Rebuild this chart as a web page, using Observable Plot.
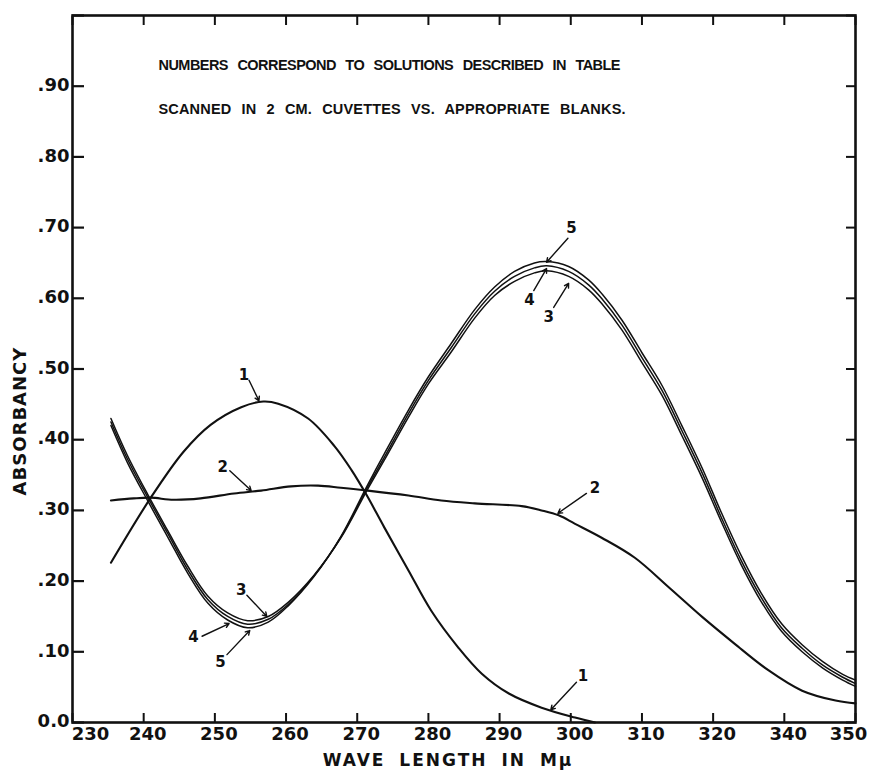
<!DOCTYPE html>
<html><head><meta charset="utf-8">
<script src="https://cdn.jsdelivr.net/npm/d3@7"></script>
<script src="https://cdn.jsdelivr.net/npm/@observablehq/plot@0.6"></script>
<style>
html,body{margin:0;padding:0;background:#fff;}
</style></head><body><div id="chart"></div>
<script>
// ---- axis ticks (the original skips 330 on the wavelength axis) ----
const xTickValues = [230, 240, 250, 260, 270, 280, 290, 300, 310, 320, 340, 350];
const xTickLabels = ["230", "240", "250", "260", "270", "280", "290", "300", "310", "320", "340", "350"];
const yTickValues = [0, 0.1, 0.2, 0.3, 0.4, 0.5, 0.6, 0.7, 0.8, 0.9, 1.0];
const yTickLabels = ["0.0", ".10", ".20", ".30", ".40", ".50", ".60", ".70", ".80", ".90", ""];

// ---- texts ----
const xTitle = "WAVE LENGTH IN M\u03bc";
const yTitle = "ABSORBANCY";
const noteLines = [
  "NUMBERS CORRESPOND TO SOLUTIONS DESCRIBED IN TABLE",
  "SCANNED IN 2 CM. CUVETTES VS. APPROPRIATE BLANKS."
];

// ---- curve 1 ----
const wl1 = [235.4, 241.0, 245.6, 249.4, 253.7, 256.8, 258.9, 263.1, 266.8, 269.2, 271.3, 273.8, 277.2, 280.4, 284.2, 287.5, 291.3, 295.9, 300.6, 303.4];
const abs1 = [0.226, 0.318, 0.383, 0.421, 0.446, 0.454, 0.451, 0.430, 0.391, 0.357, 0.322, 0.276, 0.215, 0.158, 0.106, 0.069, 0.041, 0.021, 0.007, 0.0];

// ---- curve 2 ----
const wl2 = [235.4, 238.6, 241.0, 244.2, 248.0, 252.7, 256.5, 260.7, 264.5, 267.7, 271.5, 277.2, 281.8, 286.5, 293.1, 295.9, 298.3, 300.6, 304.4, 309.0, 313.8, 318.5, 325.9, 335.5, 342.5, 347.2, 350.0];
const abs2 = [0.314, 0.317, 0.318, 0.315, 0.317, 0.324, 0.328, 0.334, 0.335, 0.332, 0.328, 0.321, 0.314, 0.310, 0.306, 0.300, 0.293, 0.281, 0.261, 0.233, 0.191, 0.149, 0.112, 0.074, 0.045, 0.031, 0.027];

// ---- curves 3, 4, 5 (read at common wavelengths) ----
const wl345 = [235.4, 237.7, 240.6, 243.4, 246.2, 249.0, 251.8, 254.6, 257.5, 260.3, 263.9, 267.7, 271.3, 273.8, 277.2, 280.0, 283.2, 286.5, 289.3, 292.1, 294.9, 296.6, 299.7, 302.5, 304.4, 307.2, 310.0, 312.8, 315.6, 318.5, 322.3, 327.9, 333.5, 339.2, 342.5, 345.4, 348.2, 350.0];
const abs3 = [0.430, 0.378, 0.322, 0.271, 0.221, 0.179, 0.155, 0.144, 0.150, 0.170, 0.208, 0.261, 0.327, 0.371, 0.432, 0.479, 0.524, 0.572, 0.604, 0.624, 0.636, 0.639, 0.631, 0.612, 0.592, 0.555, 0.509, 0.463, 0.406, 0.345, 0.284, 0.223, 0.171, 0.129, 0.100, 0.077, 0.060, 0.051];
const abs4 = [0.425, 0.373, 0.318, 0.267, 0.216, 0.174, 0.150, 0.139, 0.146, 0.167, 0.207, 0.262, 0.330, 0.375, 0.437, 0.484, 0.530, 0.578, 0.610, 0.631, 0.643, 0.646, 0.638, 0.619, 0.599, 0.562, 0.516, 0.470, 0.413, 0.352, 0.290, 0.229, 0.177, 0.134, 0.105, 0.081, 0.064, 0.055];
const abs5 = [0.420, 0.368, 0.313, 0.262, 0.211, 0.169, 0.145, 0.134, 0.142, 0.165, 0.206, 0.263, 0.333, 0.380, 0.442, 0.489, 0.536, 0.584, 0.616, 0.638, 0.650, 0.652, 0.645, 0.626, 0.606, 0.569, 0.523, 0.477, 0.420, 0.359, 0.297, 0.236, 0.183, 0.140, 0.110, 0.086, 0.068, 0.060];

// ---- curve number labels and their leader lines ----
const curveLabelText = ["1", "2", "3", "4", "5", "5", "4", "3", "2", "1"];
const curveLabelWl  = [254.1, 251.1, 253.7, 247.0, 250.8, 300.1, 294.2, 296.9, 303.4, 301.7];
const curveLabelAbs = [0.491, 0.361, 0.187, 0.120, 0.085, 0.699, 0.597, 0.573, 0.331, 0.066];
const leaderFromWl  = [254.8, 252.1, 254.5, 248.2, 251.7, 299.6, 294.8, 297.6, 302.2, 300.8];
const leaderFromAbs = [0.484, 0.356, 0.180, 0.122, 0.096, 0.685, 0.611, 0.587, 0.324, 0.057];
const leaderToWl    = [256.2, 255.1, 257.3, 252.0, 254.9, 296.6, 296.6, 299.7, 298.2, 297.2];
const leaderToAbs   = [0.455, 0.328, 0.150, 0.140, 0.130, 0.651, 0.642, 0.621, 0.296, 0.018];

// ---- build tables ----
const toRows = (wl, ab, s) => wl.map((w, i) => ({s, wl: w, a: ab[i]}));
const rows1 = toRows(wl1, abs1, "1");
const rows2 = toRows(wl2, abs2, "2");
const rows345 = [...toRows(wl345, abs3, "3"), ...toRows(wl345, abs4, "4"), ...toRows(wl345, abs5, "5")];
const labels = curveLabelText.map((t, i) => ({t, wl: curveLabelWl[i], a: curveLabelAbs[i]}));
const leaders = curveLabelText.map((t, i) => ({x1: leaderFromWl[i], y1: leaderFromAbs[i], x2: leaderToWl[i], y2: leaderToAbs[i]}));

const INK = "#111";
const xFmt = d => xTickLabels[xTickValues.indexOf(d)];
const yFmt = d => yTickLabels[yTickValues.indexOf(d)];
const blank = () => "";
const nX = xTickValues.length;
const xLabelOpts = {anchor: "bottom", tickSize: 0, tickPadding: 5, tickFormat: xFmt, fontSize: 18, fontWeight: "bold", label: null};

const chart = Plot.plot({
  width: 870,
  height: 777,
  marginLeft: 72, marginRight: 15, marginTop: 15, marginBottom: 55,
  style: {background: "#fff", color: INK, fontFamily: "'DejaVu Sans', sans-serif"},
  x: {type: "linear", domain: xTickValues, label: null},
  y: {domain: [0, 1], label: null},
  marks: [
    // tick labels (hand-lettered: first and last sit inside the frame corners)
    Plot.axisX(xTickValues.slice(0, 1), {...xLabelOpts, dx: 18}),
    Plot.axisX(xTickValues.slice(1, nX - 1), {...xLabelOpts, dx: 4}),
    Plot.axisX(xTickValues.slice(nX - 1), {...xLabelOpts, dx: -7}),
    Plot.axisY(yTickValues, {anchor: "left", tickSize: 0, tickPadding: 3, tickFormat: yFmt, fontSize: 18, fontWeight: "bold", dy: -1, label: null}),
    // inward ticks on all four sides
    Plot.axisX(xTickValues, {anchor: "bottom", tickSize: -9, tickFormat: blank, strokeWidth: 2, label: null}),
    Plot.axisX(xTickValues, {anchor: "top", tickSize: -9, tickFormat: blank, strokeWidth: 2, label: null}),
    Plot.axisY(yTickValues, {anchor: "left", tickSize: -12, tickFormat: blank, strokeWidth: 2.2, label: null}),
    Plot.axisY(yTickValues, {anchor: "right", tickSize: -10, tickFormat: blank, strokeWidth: 2, label: null}),
    Plot.frame({stroke: INK, strokeWidth: 2.6}),
    // curves
    Plot.line(rows1, {x: "wl", y: "a", stroke: INK, strokeWidth: 2.1, curve: "catmull-rom"}),
    Plot.line(rows2, {x: "wl", y: "a", stroke: INK, strokeWidth: 2.1, curve: "catmull-rom"}),
    Plot.line(rows345, {x: "wl", y: "a", z: "s", stroke: INK, strokeWidth: 1.5, curve: "catmull-rom"}),
    // curve labels
    Plot.arrow(leaders, {x1: "x1", y1: "y1", x2: "x2", y2: "y2", stroke: INK, strokeWidth: 1.4, headLength: 5}),
    Plot.text(labels, {x: "wl", y: "a", text: "t", fontSize: 15, fontWeight: "bold", fill: INK}),
    // notes
    Plot.text([noteLines[0]], {frameAnchor: "top-left", dx: 86, dy: 50, textAnchor: "start", lineAnchor: "middle", fontSize: 14.5, fontWeight: "bold", fontFamily: "'Liberation Sans', sans-serif", fill: INK}),
    Plot.text([noteLines[1]], {frameAnchor: "top-left", dx: 86, dy: 94, textAnchor: "start", lineAnchor: "middle", fontSize: 14.5, fontWeight: "bold", fontFamily: "'Liberation Sans', sans-serif", fill: INK}),
    // axis titles
    Plot.text([xTitle], {frameAnchor: "bottom", textAnchor: "middle", lineAnchor: "middle", dx: -16, dy: 38, fontSize: 17, fontWeight: "bold", fill: INK}),
    Plot.text([yTitle], {frameAnchor: "left", textAnchor: "middle", lineAnchor: "middle", rotate: -90, dx: -52, dy: 52, fontSize: 18, fontWeight: "bold", fill: INK})
  ]
});

document.getElementById("chart").appendChild(chart);

// spacing of the lettering
const svg = d3.select(chart);
svg.selectAll("text").filter(function () { return this.textContent === noteLines[0]; })
  .attr("textLength", 462).attr("lengthAdjust", "spacing").style("word-spacing", "6px");
svg.selectAll("text").filter(function () { return this.textContent === noteLines[1]; })
  .attr("textLength", 467).attr("lengthAdjust", "spacing").style("word-spacing", "6px");
svg.selectAll("text").filter(function () { return this.textContent === xTitle; })
  .style("letter-spacing", "2px").style("word-spacing", "6px");
svg.selectAll("text").filter(function () { return this.textContent === yTitle; })
  .style("letter-spacing", "1px");
</script>
</body></html>
